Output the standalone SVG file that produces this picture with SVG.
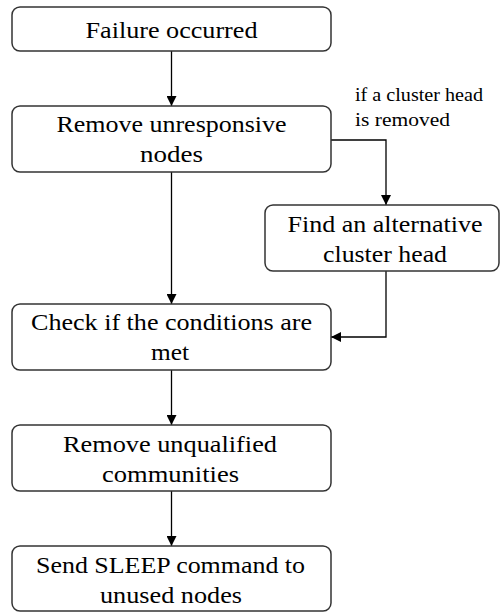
<svg xmlns="http://www.w3.org/2000/svg" width="500" height="612" viewBox="0 0 500 612">
<style>
.box{fill:#fff;stroke:#333;stroke-width:1.5}
.t{font-size:24px;fill:#000;text-anchor:middle}
.lbl{font-size:19px;fill:#000}
.c{fill:none;stroke:#000;stroke-width:1.3}
</style>
<defs>
<marker id="ah" viewBox="0 0 10 10" refX="10" refY="5" markerWidth="10" markerHeight="10" markerUnits="userSpaceOnUse" orient="auto">
<path d="M0,0 L10,5 L0,10 z" fill="#000"/>
</marker>
</defs>
<g font-family="Liberation Serif, DejaVu Serif, serif">
<g id="connectors">
<line class="c" x1="171.5" y1="51" x2="171.5" y2="106" marker-end="url(#ah)"/>
<line class="c" x1="171.5" y1="172" x2="171.5" y2="304" marker-end="url(#ah)"/>
<polyline class="c" points="331,140 386,140 386,205" marker-end="url(#ah)"/>
<polyline class="c" points="386,271 386,337 331,337" marker-end="url(#ah)"/>
<line class="c" x1="171.5" y1="370" x2="171.5" y2="425" marker-end="url(#ah)"/>
<line class="c" x1="171.5" y1="491" x2="171.5" y2="546" marker-end="url(#ah)"/>
<text class="lbl" x="355" y="101" textLength="128" lengthAdjust="spacingAndGlyphs">if a cluster head</text>
<text class="lbl" x="355" y="126" textLength="95" lengthAdjust="spacingAndGlyphs">is removed</text>
</g>
<g id="n1">
<rect class="box" x="12" y="7" width="319" height="44" rx="8"/>
<text class="t" x="171.5" y="38" textLength="172" lengthAdjust="spacingAndGlyphs">Failure occurred</text>
</g>
<g id="n2">
<rect class="box" x="12" y="106" width="319" height="66" rx="8"/>
<text class="t" x="171.5" y="132" textLength="230" lengthAdjust="spacingAndGlyphs">Remove unresponsive</text>
<text class="t" x="171.5" y="162" textLength="63" lengthAdjust="spacingAndGlyphs">nodes</text>
</g>
<g id="n3">
<rect class="box" x="265" y="205" width="234" height="66" rx="8"/>
<text class="t" x="385" y="232" textLength="195" lengthAdjust="spacingAndGlyphs">Find an alternative</text>
<text class="t" x="385" y="262" textLength="124" lengthAdjust="spacingAndGlyphs">cluster head</text>
</g>
<g id="n4">
<rect class="box" x="12" y="304" width="319" height="66" rx="8"/>
<text class="t" x="171.5" y="330" textLength="281" lengthAdjust="spacingAndGlyphs">Check if the conditions are</text>
<text class="t" x="170" y="360" textLength="38" lengthAdjust="spacingAndGlyphs">met</text>
</g>
<g id="n5">
<rect class="box" x="12" y="425" width="319" height="66" rx="8"/>
<text class="t" x="170" y="452" textLength="214" lengthAdjust="spacingAndGlyphs">Remove unqualified</text>
<text class="t" x="170.5" y="482" textLength="137" lengthAdjust="spacingAndGlyphs">communities</text>
</g>
<g id="n6">
<rect class="box" x="12" y="546" width="319" height="65" rx="8"/>
<text class="t" x="170.5" y="573" textLength="269" lengthAdjust="spacingAndGlyphs">Send SLEEP command to</text>
<text class="t" x="171" y="603" textLength="142" lengthAdjust="spacingAndGlyphs">unused nodes</text>
</g>
</g>
</svg>
